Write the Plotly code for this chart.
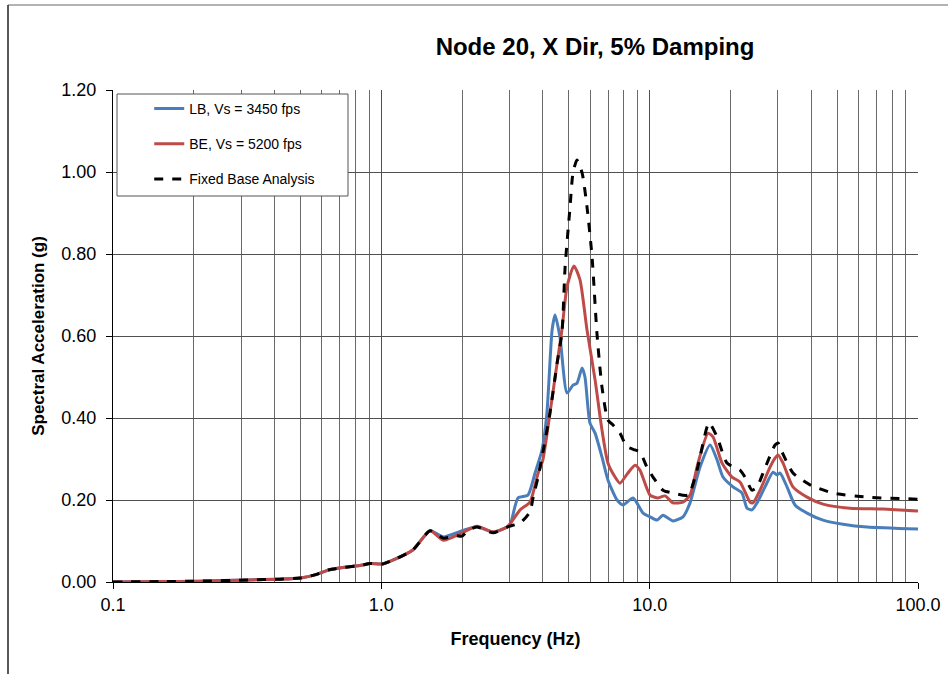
import plotly.graph_objects as go

# ---------------- data ----------------
lb_freq = [0.1, 0.15, 0.21, 0.32, 0.42, 0.50, 0.57, 0.64, 0.73, 0.83, 0.91, 1.01, 1.12, 1.31,
           1.52, 1.70, 2.00, 2.27, 2.61, 2.94, 3.02, 3.23, 3.52, 3.74, 3.97, 4.14, 4.33, 4.44,
           4.63, 4.92, 5.18, 5.36, 5.60, 5.74, 5.99, 6.26, 6.64, 6.99, 7.56, 7.96, 8.67, 9.45,
           10.03, 10.65, 11.21, 12.22, 13.31, 14.14, 15.40, 16.79, 17.83, 18.76, 20.44, 22.08,
           23.06, 24.07, 25.12, 26.91, 28.82, 29.83, 30.61, 32.50, 34.80, 38.58, 44.26, 52.55,
           64.57, 100.0]
lb_sa = [0.000, 0.001, 0.002, 0.005, 0.007, 0.010, 0.018, 0.030, 0.036, 0.040, 0.045, 0.044, 0.055, 0.078,
         0.125, 0.110, 0.125, 0.135, 0.122, 0.134, 0.139, 0.205, 0.212, 0.266, 0.322, 0.412, 0.615, 0.651,
         0.598, 0.461, 0.480, 0.485, 0.522, 0.500, 0.388, 0.363, 0.305, 0.249, 0.200, 0.188, 0.205, 0.168,
         0.159, 0.151, 0.163, 0.149, 0.159, 0.193, 0.280, 0.334, 0.298, 0.256, 0.232, 0.217,
         0.180, 0.176, 0.193, 0.232, 0.268, 0.261, 0.266, 0.232, 0.188, 0.168, 0.151, 0.141,
         0.134, 0.129]

be_freq = [0.1, 0.15, 0.21, 0.32, 0.42, 0.50, 0.57, 0.64, 0.73, 0.83, 0.91, 1.01, 1.12, 1.31,
           1.52, 1.70, 2.00, 2.27, 2.61, 2.94, 3.29, 3.58, 3.84, 4.00, 4.25, 4.52, 4.71, 4.92,
           5.22, 5.50, 5.84, 6.26, 6.64, 6.99, 7.43, 7.75, 8.30, 8.82, 9.20, 10.03, 10.74, 11.41,
           12.22, 13.31, 14.14, 15.14, 16.50, 17.22, 18.61, 20.27, 21.71, 23.66, 24.27, 25.78,
           28.09, 29.32, 30.09, 31.41, 34.20, 38.58, 44.26, 55.80, 74.06, 100.0]
be_sa = [0.000, 0.001, 0.002, 0.005, 0.007, 0.010, 0.018, 0.030, 0.036, 0.040, 0.045, 0.044, 0.055, 0.078,
         0.125, 0.102, 0.120, 0.136, 0.122, 0.134, 0.176, 0.195, 0.266, 0.298, 0.412, 0.534, 0.615, 0.720,
         0.771, 0.737, 0.615, 0.493, 0.371, 0.290, 0.256, 0.241, 0.266, 0.285, 0.273, 0.212, 0.205, 0.210,
         0.193, 0.195, 0.212, 0.290, 0.363, 0.354, 0.290, 0.256, 0.244, 0.195, 0.193, 0.224,
         0.280, 0.302, 0.310, 0.290, 0.232, 0.207, 0.190, 0.180, 0.178, 0.173]

fb_freq = [0.1, 0.15, 0.21, 0.32, 0.42, 0.50, 0.57, 0.64, 0.73, 0.83, 0.91, 1.01, 1.12, 1.31,
           1.52, 1.70, 1.90, 2.00, 2.10, 2.27, 2.61, 2.94, 3.29, 3.58, 3.68, 3.84, 3.97, 4.25,
           4.52, 4.71, 4.84, 5.05, 5.18, 5.36, 5.60, 5.84, 6.10, 6.36, 6.64, 6.99, 7.30, 7.75,
           8.23, 8.82, 9.20, 9.77, 10.29, 11.21, 12.22, 13.90, 15.01, 16.64, 17.83, 19.42,
           21.71, 22.66, 24.07, 25.12, 26.91, 29.32, 30.09, 31.14, 34.20, 39.59, 48.23, 64.57, 100.0]
fb_sa = [0.000, 0.001, 0.002, 0.005, 0.007, 0.010, 0.018, 0.030, 0.036, 0.040, 0.045, 0.044, 0.055, 0.078,
         0.125, 0.107, 0.113, 0.112, 0.125, 0.134, 0.120, 0.134, 0.144, 0.171, 0.207, 0.256, 0.305, 0.412,
         0.534, 0.607, 0.768, 0.915, 0.998, 1.029, 0.998, 0.915, 0.793, 0.607, 0.476, 0.395, 0.383, 0.363,
         0.330, 0.322, 0.317, 0.280, 0.256, 0.224, 0.217, 0.212, 0.273, 0.388, 0.354, 0.290,
         0.273, 0.256, 0.224, 0.232, 0.278, 0.334, 0.339, 0.317, 0.266, 0.237, 0.217, 0.207, 0.202]

x_major = [0.1, 1, 10, 100]
x_major_text = ["0.1", "1.0", "10.0", "100.0"]
x_minor = [m * d for d in (0.1, 1, 10) for m in range(2, 10)]

FONT = "Arial, Liberation Sans, sans-serif"

fig = go.Figure()
fig.add_trace(go.Scatter(x=lb_freq, y=lb_sa, mode="lines", name="LB, Vs = 3450 fps",
                         legendgroup="a", line=dict(color="#4A7EBB", width=3, shape="spline", smoothing=0.6)))
fig.add_trace(go.Scatter(x=be_freq, y=be_sa, mode="lines", name="BE, Vs = 5200 fps",
                         legendgroup="b", line=dict(color="#BE4B48", width=3, shape="spline", smoothing=0.6)))
fig.add_trace(go.Scatter(x=fb_freq, y=fb_sa, mode="lines", name="Fixed Base Analysis",
                         legendgroup="c", line=dict(color="black", width=3, dash="dash", shape="spline", smoothing=0.6)))

fig.update_layout(
    width=948, height=674,
    margin=dict(l=113, r=30, t=90, b=92),
    paper_bgcolor="white", plot_bgcolor="white",
    font=dict(family=FONT, color="black"),
    title=dict(text="<b>Node 20, X Dir, 5% Damping</b>", font=dict(size=24, family=FONT),
               x=595 / 948, xref="container", xanchor="center",
               y=1 - 47 / 674, yref="container", yanchor="middle"),
    legend=dict(x=0.045, y=0.994, xanchor="left", yanchor="top",
                bgcolor="rgba(0,0,0,0)", borderwidth=0,
                font=dict(size=14, family=FONT), tracegroupgap=14, traceorder="grouped"),
    showlegend=True,
)

fig.update_xaxes(
    type="log", range=[-1, 2], automargin=False,
    tickmode="array", tickvals=x_major, ticktext=x_major_text,
    tickfont=dict(size=18, family=FONT),
    ticks="outside", ticklen=6, tickcolor="black",
    showline=True, linecolor="black", linewidth=1,
    showgrid=True, gridcolor="#505050", gridwidth=1,
    minor=dict(tickmode="array", tickvals=x_minor, showgrid=True, gridcolor="#6a6a6a", gridwidth=1, ticks=""),
    title=dict(text="<b>Frequency (Hz)</b>", font=dict(size=18, family=FONT), standoff=18),
    zeroline=False,
)
fig.update_yaxes(
    range=[0, 1.2], dtick=0.2, tick0=0, tickformat=".2f", automargin=False,
    tickfont=dict(size=18, family=FONT),
    ticks="outside", ticklen=6, tickcolor="black", ticklabelstandoff=6,
    showline=True, linecolor="black", linewidth=1,
    showgrid=True, gridcolor="#505050", gridwidth=1,
    title=dict(text="<b>Spectral Acceleration (g)</b>", font=dict(size=17, family=FONT), standoff=12),
    zeroline=False,
)

# legend box (white, bordered) like the reference
fig.add_shape(type="rect", xref="paper", yref="paper", layer="above",
              x0=(117 - 113) / 805, x1=(348 - 113) / 805, y0=(582 - 196) / 492, y1=(582 - 94) / 492,
              fillcolor="white", line=dict(color="#555555", width=1))

# outer chart-area frame (top and left edges visible in the reference)
fig.add_shape(type="line", xref="paper", yref="paper", x0=-105 / 805, x1=835 / 805,
              y0=577 / 492, y1=577 / 492, line=dict(color="#9a9a9a", width=1.5))
fig.add_shape(type="line", xref="paper", yref="paper", x0=-105 / 805, x1=-105 / 805,
              y0=577 / 492, y1=-95 / 492, line=dict(color="#222222", width=1.5))

fig.write_html("out.html")
